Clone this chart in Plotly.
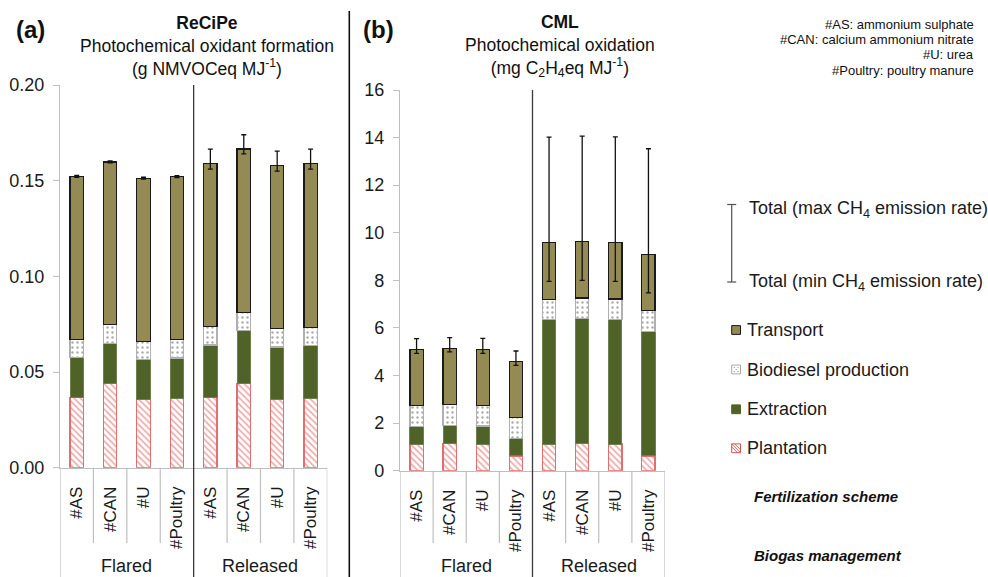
import plotly.graph_objects as go

W, H = 988, 577
FONT = "Liberation Sans, Arial, sans-serif"

# ---------------- data ----------------
categories = ["#AS", "#CAN", "#U", "#Poultry", "#AS", "#CAN", "#U", "#Poultry"]
groups = ["Flared", "Released"]

# (a) ReCiPe - photochemical oxidant formation (g NMVOCeq / MJ)
a_plantation = [0.0366, 0.0441, 0.0355, 0.0364, 0.0366, 0.0441, 0.0355, 0.0364]
a_extraction = [0.0209, 0.0209, 0.0212, 0.0209, 0.0275, 0.0275, 0.0276, 0.0274]
a_biodiesel = [0.0096, 0.0097, 0.0092, 0.0095, 0.0096, 0.0096, 0.0096, 0.0096]
a_transport = [0.0852, 0.0851, 0.0854, 0.0853, 0.0853, 0.0854, 0.0853, 0.0856]
a_err_plus = [0.0005, 0.0005, 0.0005, 0.0005, 0.0075, 0.0074, 0.0074, 0.0075]
a_err_minus = [0.0005, 0.0005, 0.0005, 0.0005, 0.0030, 0.0026, 0.0030, 0.0030]

# (b) CML - photochemical oxidation (mg C2H4eq / MJ)
b_plantation = [1.11, 1.15, 1.12, 0.62, 1.11, 1.15, 1.12, 0.62]
b_extraction = [0.75, 0.76, 0.76, 0.75, 5.25, 5.25, 5.25, 5.24]
b_biodiesel = [0.89, 0.88, 0.87, 0.86, 0.85, 0.86, 0.85, 0.86]
b_transport = [2.35, 2.35, 2.35, 2.37, 2.37, 2.36, 2.38, 2.37]
b_err_plus = [0.45, 0.45, 0.46, 0.43, 4.44, 4.44, 4.43, 4.44]
b_err_minus = [0.17, 0.15, 0.17, 0.17, 1.62, 1.62, 1.64, 1.62]

xpos = list(range(len(categories)))


def px(x):
    return x / W


def py(y):
    return 1 - y / H


C_TRANSPORT = "#948A54"
C_EXTRACTION = "#4F6228"
C_PLANT = "#DD4B4B"
AXIS_GRAY = "#BFBFBF"
TXT = "#1A1A1A"

fig = go.Figure()


def add_panel(xa, ya, plant, extr, bio, trans, ep, em):
    fig.add_trace(go.Bar(
        x=xpos, y=plant, xaxis=xa, yaxis=ya, width=0.4, name="Plantation", showlegend=False,
        marker=dict(color="white", line=dict(color="#E07070", width=1.2),
                    pattern=dict(shape="\\", fgcolor=C_PLANT, bgcolor="white", size=4.5, solidity=0.35))))
    fig.add_trace(go.Bar(
        x=xpos, y=extr, xaxis=xa, yaxis=ya, width=0.4, name="Extraction", showlegend=False,
        marker=dict(color=C_EXTRACTION, line=dict(color="#6E7F50", width=1))))
    fig.add_trace(go.Bar(
        x=xpos, y=bio, xaxis=xa, yaxis=ya, width=0.4, name="Biodiesel production", showlegend=False,
        marker=dict(color="white", line=dict(color="#B0B0B0", width=1.2),
                    pattern=dict(shape=".", fgcolor="#555555", bgcolor="white", size=5, solidity=0.18))))
    fig.add_trace(go.Bar(
        x=xpos, y=trans, xaxis=xa, yaxis=ya, width=0.4, name="Transport", showlegend=False,
        marker=dict(color=C_TRANSPORT, line=dict(color="#1A1A1A", width=1.2))))
    totals = [p + e + b + t for p, e, b, t in zip(plant, extr, bio, trans)]
    fig.add_trace(go.Scatter(
        x=xpos, y=totals, xaxis=xa, yaxis=ya, mode="markers", showlegend=False,
        marker=dict(size=1, color="rgba(0,0,0,0)"), hoverinfo="skip",
        error_y=dict(type="data", symmetric=False, array=ep, arrayminus=em,
                     color="#111111", thickness=1.3, width=2.5)))


add_panel("x", "y", a_plantation, a_extraction, a_biodiesel, a_transport, a_err_plus, a_err_minus)
add_panel("x2", "y2", b_plantation, b_extraction, b_biodiesel, b_transport, b_err_plus, b_err_minus)

xa_dom = [px(60), px(327.3)]
ya_dom = [py(467.7), py(85)]
xb_dom = [px(400), px(665)]
yb_dom = [py(470.7), py(90)]

xcommon = dict(range=[-0.5, 7.5], tickvals=xpos, ticktext=categories, tickangle=-90,
               showline=True, linecolor=AXIS_GRAY, linewidth=1.2, showgrid=False, zeroline=False,
               ticks="", ticklabelstandoff=11, automargin=False,
               tickfont=dict(family=FONT, size=17, color=TXT), fixedrange=True)
ycommon = dict(showline=True, linecolor=AXIS_GRAY, linewidth=1.2, showgrid=False, zeroline=False,
               ticks="outside", ticklen=6, tickcolor=AXIS_GRAY, tickwidth=1.2, ticklabelstandoff=5,
               automargin=False,
               tickfont=dict(family=FONT, size=18, color=TXT), fixedrange=True)

fig.update_layout(
    width=W, height=H, margin=dict(l=0, r=0, t=0, b=0, pad=0, autoexpand=False),
    paper_bgcolor="white", plot_bgcolor="white",
    barmode="stack", bargap=0.6, showlegend=False,
    font=dict(family=FONT, size=17, color=TXT),
    xaxis=dict(domain=xa_dom, anchor="y", **xcommon),
    yaxis=dict(domain=ya_dom, anchor="x", range=[0, 0.2], dtick=0.05, tickformat=".2f", **ycommon),
    xaxis2=dict(domain=xb_dom, anchor="y2", **xcommon),
    yaxis2=dict(domain=yb_dom, anchor="x2", range=[0, 16], dtick=2, **ycommon),
)

shapes = []


def vline(xref, x, y0, y1, color, width):
    shapes.append(dict(type="line", xref=xref, yref="paper", x0=x, x1=x, y0=y0, y1=y1,
                       line=dict(color=color, width=width)))


for xr, ydom in (("x", ya_dom), ("x2", yb_dom)):
    for xs in (0.5, 1.5, 2.5, 4.5, 5.5, 6.5):
        vline(xr, xs, py(543), ydom[0], AXIS_GRAY, 1.2)
    vline(xr, -0.5, 0, ydom[0], AXIS_GRAY, 1.2)
    vline(xr, 7.5, 0, ydom[0], AXIS_GRAY, 1.2)
    vline(xr, 3.5, 0, ydom[1], "#3A3A3A", 1.3)

# panel separator
shapes.append(dict(type="line", xref="paper", yref="paper", x0=px(349.3), x1=px(349.3),
                   y0=0, y1=py(11), line=dict(color="#111111", width=1.6)))

# legend: error bar sample
LG = "#505050"
shapes.append(dict(type="line", xref="paper", yref="paper", x0=px(731.7), x1=px(731.7),
                   y0=py(282), y1=py(204.5), line=dict(color=LG, width=1.2)))
for yy in (204.5, 282):
    shapes.append(dict(type="line", xref="paper", yref="paper", x0=px(727.2), x1=px(736.2),
                       y0=py(yy), y1=py(yy), line=dict(color=LG, width=1.2)))

legend_items = [("Transport", 330), ("Biodiesel production", 369.5),
                ("Extraction", 409.3), ("Plantation", 448.3)]
box_style = {
    "Transport": (C_TRANSPORT, "#1A1A1A"),
    "Biodiesel production": ("white", "#A8A8A8"),
    "Extraction": (C_EXTRACTION, C_EXTRACTION),
    "Plantation": ("white", "#D85050"),
}
annotations = []
for name, yc in legend_items:
    fill, line = box_style[name]
    x0, x1 = 731.7, 740.5
    y0, y1 = yc - 4.4, yc + 4.4
    shapes.append(dict(type="rect", xref="paper", yref="paper", x0=px(x0), x1=px(x1),
                       y0=py(y1), y1=py(y0), fillcolor=fill, line=dict(color=line, width=1)))
    if name == "Plantation":
        for d in (-3, 0, 3):
            sx0, sy0 = x0 + max(0, d), y0 + max(0, -d)
            sx1, sy1 = x1 - max(0, -d), y1 - max(0, d)
            shapes.append(dict(type="line", xref="paper", yref="paper",
                               x0=px(sx0), y0=py(sy0), x1=px(sx1), y1=py(sy1),
                               line=dict(color="#D85050", width=0.9)))
    if name == "Biodiesel production":
        for (dx, dy) in ((2.5, 2.5), (6.3, 2.5), (4.4, 4.4), (2.5, 6.3), (6.3, 6.3)):
            cx, cy = x0 + dx, y0 + dy
            shapes.append(dict(type="circle", xref="paper", yref="paper",
                               x0=px(cx - 0.5), x1=px(cx + 0.5), y0=py(cy + 0.5), y1=py(cy - 0.5),
                               fillcolor="#606060", line=dict(width=0)))
    annotations.append(dict(text=name, x=px(745), y=py(yc), xref="paper", yref="paper",
                            xanchor="left", yanchor="middle", showarrow=False,
                            font=dict(family=FONT, size=18, color=TXT)))

for txt, yy in (("Total (max CH<sub>4</sub> emission rate)", 209),
                ("Total (min CH<sub>4</sub> emission rate)", 282)):
    annotations.append(dict(text=txt, x=px(747), y=py(yy), xref="paper", yref="paper",
                            xanchor="left", yanchor="middle", showarrow=False,
                            font=dict(family=FONT, size=18, color=TXT)))


def label(text, x, y, size=17, anchor="center"):
    annotations.append(dict(text=text, x=px(x), y=py(y), xref="paper", yref="paper",
                            xanchor=anchor, yanchor="middle", showarrow=False,
                            font=dict(family=FONT, size=size, color="#111111")))


# panel titles (one block each, three lines)
label("<b>(a)</b>", 31, 29, size=24)
label("<b>ReCiPe</b><br>Photochemical oxidant formation<br>(g NMVOCeq MJ<sup>-1</sup>)", 207, 45.5, size=17.5)

label("<b>(b)</b>", 378, 29, size=24)
label("<b>CML</b><br>Photochemical oxidation<br>(mg C<sub>2</sub>H<sub>4</sub>eq MJ<sup>-1</sup>)", 560, 45.5, size=17.5)

# abbreviations note
for txt, yy in (("#AS: ammonium sulphate", 24.5), ("#CAN: calcium ammonium nitrate", 40),
                ("#U: urea", 55), ("#Poultry: poultry manure", 70.5)):
    label(txt, 976, yy, size=13, anchor="right")

# group labels
for gi, g in enumerate(groups):
    for xr in ("x", "x2"):
        annotations.append(dict(text=g, x=1.5 + 4 * gi, y=py(566), xref=xr, yref="paper",
                                xanchor="center", yanchor="middle", showarrow=False,
                                font=dict(family=FONT, size=18, color=TXT)))

label("<b><i>Fertilization scheme</i></b>", 752, 496, size=15, anchor="left")
label("<b><i>Biogas management</i></b>", 752, 555, size=15, anchor="left")

fig.update_layout(shapes=shapes, annotations=annotations)
fig.write_html("out.html")
